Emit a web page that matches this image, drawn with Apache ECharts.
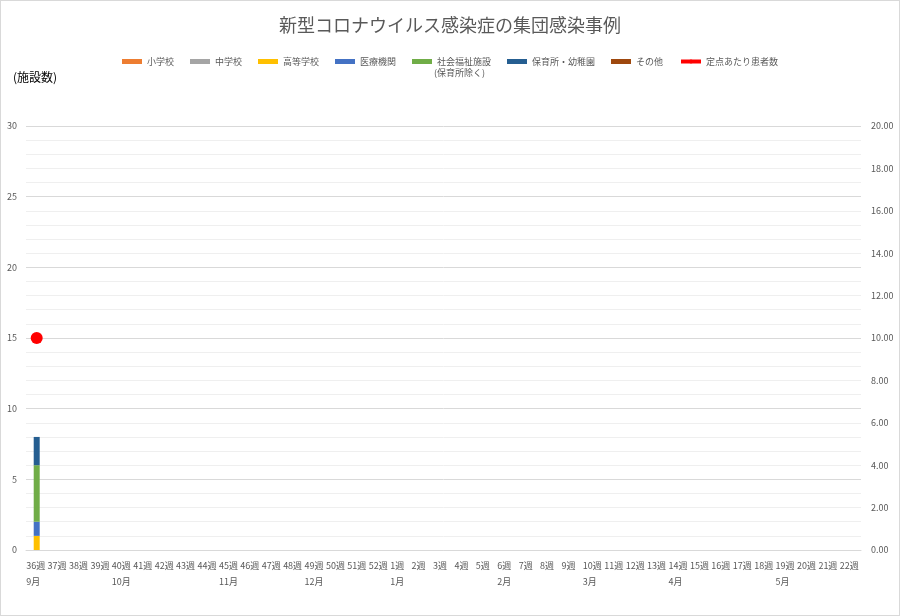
<!DOCTYPE html>
<html>
<head>
<meta charset="utf-8">
<script src="https://cdn.jsdelivr.net/npm/echarts@6/dist/echarts.min.js"></script>
<style>
html, body { margin: 0; padding: 0; background: #fff; }
#main { width: 898px; height: 614px; border: 1px solid #d9d9d9; }
</style>
</head>
<body>
<div id="main"></div>
<script>
// 週ラベル
var weeks = ['36週', '37週', '38週', '39週', '40週', '41週', '42週', '43週', '44週', '45週', '46週', '47週', '48週', '49週', '50週', '51週', '52週',
    '1週', '2週', '3週', '4週', '5週', '6週', '7週', '8週', '9週', '10週', '11週', '12週', '13週', '14週', '15週', '16週', '17週', '18週', '19週', '20週', '21週', '22週'];
// 月ラベル（その月の最初の週の下）
var months = ['9月', '', '', '', '10月', '', '', '', '', '11月', '', '', '', '12月', '', '', '',
    '1月', '', '', '', '', '2月', '', '', '', '3月', '', '', '', '4月', '', '', '', '', '5月', '', '', ''];

// 施設数
var shogakko = [0, 0, 0, 0, 0, 0, 0, 0, 0, 0, 0, 0, 0, 0, 0, 0, 0, 0, 0, 0, 0, 0, 0, 0, 0, 0, 0, 0, 0, 0, 0, 0, 0, 0, 0, 0, 0, 0, 0];
var chugakko = [0, 0, 0, 0, 0, 0, 0, 0, 0, 0, 0, 0, 0, 0, 0, 0, 0, 0, 0, 0, 0, 0, 0, 0, 0, 0, 0, 0, 0, 0, 0, 0, 0, 0, 0, 0, 0, 0, 0];
var kotogakko = [1, 0, 0, 0, 0, 0, 0, 0, 0, 0, 0, 0, 0, 0, 0, 0, 0, 0, 0, 0, 0, 0, 0, 0, 0, 0, 0, 0, 0, 0, 0, 0, 0, 0, 0, 0, 0, 0, 0];
var iryo = [1, 0, 0, 0, 0, 0, 0, 0, 0, 0, 0, 0, 0, 0, 0, 0, 0, 0, 0, 0, 0, 0, 0, 0, 0, 0, 0, 0, 0, 0, 0, 0, 0, 0, 0, 0, 0, 0, 0];
var fukushi = [4, 0, 0, 0, 0, 0, 0, 0, 0, 0, 0, 0, 0, 0, 0, 0, 0, 0, 0, 0, 0, 0, 0, 0, 0, 0, 0, 0, 0, 0, 0, 0, 0, 0, 0, 0, 0, 0, 0];
var hoiku = [2, 0, 0, 0, 0, 0, 0, 0, 0, 0, 0, 0, 0, 0, 0, 0, 0, 0, 0, 0, 0, 0, 0, 0, 0, 0, 0, 0, 0, 0, 0, 0, 0, 0, 0, 0, 0, 0, 0];
var sonota = [0, 0, 0, 0, 0, 0, 0, 0, 0, 0, 0, 0, 0, 0, 0, 0, 0, 0, 0, 0, 0, 0, 0, 0, 0, 0, 0, 0, 0, 0, 0, 0, 0, 0, 0, 0, 0, 0, 0];
// 定点あたり患者数
var teiten = [10.0, null, null, null, null, null, null, null, null, null, null, null, null, null, null, null, null,
    null, null, null, null, null, null, null, null, null, null, null, null, null, null, null, null, null, null, null, null, null, null];

var myChart = echarts.init(document.getElementById('main'));
var font = '"Noto Sans CJK JP", sans-serif';

function bar(name, data, color) {
    return {
        name: name,
        type: 'bar',
        stack: 'total',
        barWidth: 6,
        itemStyle: { color: color },
        data: data
    };
}

var option = {
    textStyle: { fontFamily: font },
    title: {
        text: '新型コロナウイルス感染症の集団感染事例',
        left: 'center',
        top: 10,
        textStyle: { fontSize: 18, fontWeight: 'normal', color: '#595959', fontFamily: font }
    },
    legend: {
        top: 51,
        left: 'center',
        itemWidth: 20,
        itemHeight: 5,
        itemGap: 16,
        textStyle: { fontSize: 9, color: '#595959', fontFamily: font },
        data: [
            { name: '小学校', icon: 'rect' },
            { name: '中学校', icon: 'rect' },
            { name: '高等学校', icon: 'rect' },
            { name: '医療機関', icon: 'rect' },
            { name: '社会福祉施設', icon: 'rect' },
            { name: '保育所・幼稚園', icon: 'rect' },
            { name: 'その他', icon: 'rect' },
            { name: '定点あたり患者数', lineStyle: { width: 4 } }
        ]
    },
    graphic: [{
        type: 'text',
        left: 433,
        top: 67,
        style: { text: '(保育所除く)', fontSize: 9, fill: '#595959', fontFamily: font }
    }, {
        type: 'text',
        left: 12,
        top: 70,
        style: { text: '(施設数)', fontSize: 12, fill: '#000', fontFamily: font }
    }],
    grid: { left: 25, right: 38, top: 125, bottom: 65 },
    xAxis: {
        type: 'category',
        data: weeks,
        axisLine: { lineStyle: { color: '#d9d9d9' } },
        axisTick: { show: false },
        axisLabel: {
            interval: 0,
            margin: 8,
            lineHeight: 16,
            formatter: function(v, i) {
                return '{w|' + v + '}\n{m|' + (months[i] || ' ') + '}';
            },
            rich: {
                w: { width: 21, align: 'left', fontSize: 9, color: '#595959', fontFamily: font },
                m: { width: 21, align: 'left', fontSize: 9, color: '#595959', fontFamily: font }
            }
        }
    },
    yAxis: [{
        type: 'value',
        min: 0,
        max: 30,
        interval: 5,
        axisLine: { show: false },
        axisTick: { show: false },
        axisLabel: { fontSize: 9, color: '#595959', margin: 9 },
        splitLine: { lineStyle: { color: '#d9d9d9' } },
        minorTick: { show: false, splitNumber: 5 },
        minorSplitLine: { show: true, lineStyle: { color: '#efefef' } }
    }, {
        type: 'value',
        min: 0,
        max: 20,
        interval: 2,
        axisLine: { show: false },
        axisTick: { show: false },
        splitLine: { show: false },
        axisLabel: {
            fontSize: 9,
            color: '#595959',
            margin: 10,
            formatter: function(v) { return v.toFixed(2); }
        }
    }],
    series: [
        bar('小学校', shogakko, '#ED7D31'),
        bar('中学校', chugakko, '#A5A5A5'),
        bar('高等学校', kotogakko, '#FFC000'),
        bar('医療機関', iryo, '#4472C4'),
        bar('社会福祉施設', fukushi, '#70AD47'),
        bar('保育所・幼稚園', hoiku, '#255E91'),
        bar('その他', sonota, '#9E480E'),
        {
            name: '定点あたり患者数',
            type: 'line',
            yAxisIndex: 1,
            symbol: 'circle',
            symbolSize: 12,
            itemStyle: { color: '#FF0000' },
            lineStyle: { color: '#FF0000', width: 3 },
            data: teiten
        }
    ]
};

myChart.setOption(option);
</script>
</body>
</html>
